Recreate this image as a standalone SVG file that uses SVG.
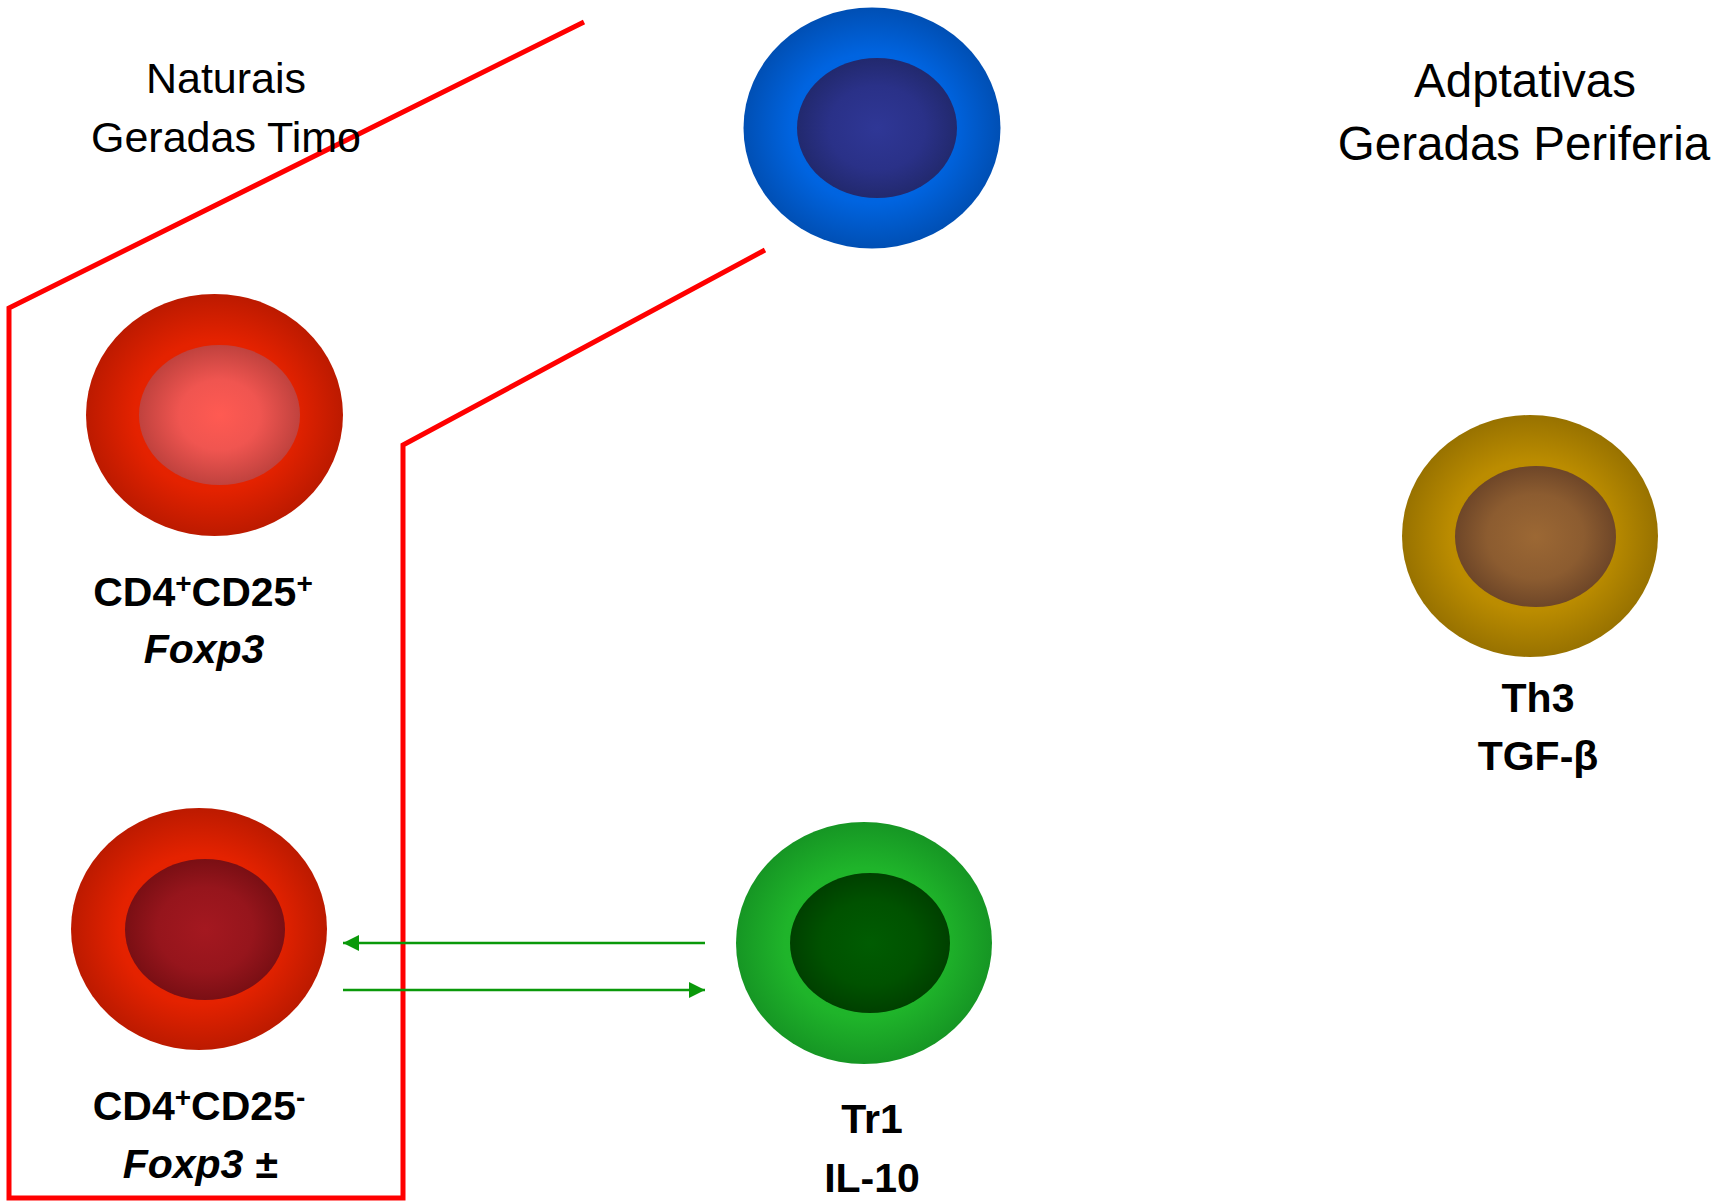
<svg xmlns="http://www.w3.org/2000/svg" width="1724" height="1201" viewBox="0 0 1724 1201">
  <style>
    .head { font-family: "Liberation Sans", Arial, sans-serif; fill: #000; text-anchor: middle; }
    .lbl { font-family: "Liberation Sans", Arial, sans-serif; font-weight: bold; font-size: 41px; fill: #000; text-anchor: middle; }
    .it { font-style: italic; }
    .sup { font-size: 28px; }
    .frame { fill: none; stroke: #ff0000; stroke-width: 5; stroke-linejoin: miter; }
    .flow { stroke: #0a990a; stroke-width: 2.5; fill: none; marker-end: url(#arrow); }
  </style>
  <defs>
    <radialGradient id="redShell" cx="50%" cy="50%" r="50%">
      <stop offset="0" stop-color="#e82400"/>
      <stop offset="0.62" stop-color="#e42200"/>
      <stop offset="1" stop-color="#bc1a00"/>
    </radialGradient>
    <radialGradient id="pinkCore" cx="50%" cy="50%" r="50%">
      <stop offset="0" stop-color="#ff5a52"/>
      <stop offset="0.5" stop-color="#f05550"/>
      <stop offset="1" stop-color="#c0423e"/>
    </radialGradient>
    <radialGradient id="maroonCore" cx="50%" cy="50%" r="50%">
      <stop offset="0" stop-color="#a41820"/>
      <stop offset="0.6" stop-color="#96151c"/>
      <stop offset="1" stop-color="#7a0f14"/>
    </radialGradient>
    <radialGradient id="blueShell" cx="50%" cy="50%" r="50%">
      <stop offset="0" stop-color="#006ae8"/>
      <stop offset="0.62" stop-color="#0064e0"/>
      <stop offset="1" stop-color="#004fb4"/>
    </radialGradient>
    <radialGradient id="blueCore" cx="50%" cy="50%" r="50%">
      <stop offset="0" stop-color="#2f3796"/>
      <stop offset="0.6" stop-color="#2a3188"/>
      <stop offset="1" stop-color="#22296e"/>
    </radialGradient>
    <radialGradient id="goldShell" cx="50%" cy="50%" r="50%">
      <stop offset="0" stop-color="#bf9000"/>
      <stop offset="0.62" stop-color="#bb8c00"/>
      <stop offset="1" stop-color="#987200"/>
    </radialGradient>
    <radialGradient id="brownCore" cx="50%" cy="50%" r="50%">
      <stop offset="0" stop-color="#9c6834"/>
      <stop offset="0.6" stop-color="#8c5c30"/>
      <stop offset="1" stop-color="#6e4628"/>
    </radialGradient>
    <radialGradient id="greenShell" cx="50%" cy="50%" r="50%">
      <stop offset="0" stop-color="#22bc2c"/>
      <stop offset="0.62" stop-color="#1fb42a"/>
      <stop offset="1" stop-color="#169624"/>
    </radialGradient>
    <radialGradient id="greenCore" cx="50%" cy="50%" r="50%">
      <stop offset="0" stop-color="#005c02"/>
      <stop offset="0.6" stop-color="#005200"/>
      <stop offset="1" stop-color="#004000"/>
    </radialGradient>
    <marker id="arrow" markerUnits="userSpaceOnUse" markerWidth="17" markerHeight="16" refX="16" refY="8" orient="auto">
      <path d="M0,0 L16,8 L0,16 Z" fill="#0a990a"/>
    </marker>
  </defs>

  <rect width="1724" height="1201" fill="#ffffff"/>

  <!-- thymus-derived (natural) group outline -->
  <polyline id="natural-frame" class="frame" points="584,22 9,308 9,1198 403,1198 403,445 765,250"/>

  <!-- column headings -->
  <g id="heading-natural">
    <text class="head" x="226" y="93" font-size="43">Naturais</text>
    <text class="head" x="226" y="152" font-size="43">Geradas Timo</text>
  </g>
  <g id="heading-adaptive">
    <text class="head" x="1525" y="97" font-size="47.5">Adptativas</text>
    <text class="head" x="1524" y="160" font-size="47.5">Geradas Periferia</text>
  </g>

  <!-- cells -->
  <g id="cell-naive">
    <ellipse cx="872" cy="128" rx="128.5" ry="120.5" fill="url(#blueShell)"/>
    <ellipse cx="877" cy="128" rx="80" ry="70" fill="url(#blueCore)"/>
  </g>

  <g id="cell-cd25pos">
    <ellipse cx="214.5" cy="415" rx="128.5" ry="121" fill="url(#redShell)"/>
    <ellipse cx="219.5" cy="415" rx="80.5" ry="70" fill="url(#pinkCore)"/>
    <text class="lbl" x="203" y="606">CD4<tspan class="sup" dy="-13">+</tspan><tspan dy="13">CD25</tspan><tspan class="sup" dy="-13">+</tspan></text>
    <text class="lbl it" x="204" y="663">Foxp3</text>
  </g>

  <g id="cell-cd25neg">
    <ellipse cx="199" cy="929" rx="128" ry="121" fill="url(#redShell)"/>
    <ellipse cx="205" cy="929.5" rx="80" ry="70.5" fill="url(#maroonCore)"/>
    <text class="lbl" x="199" y="1120">CD4<tspan class="sup" dy="-13">+</tspan><tspan dy="13">CD25</tspan><tspan class="sup" dy="-13">-</tspan></text>
    <text class="lbl it" x="200" y="1178">Foxp3 ±</text>
  </g>

  <g id="cell-tr1">
    <ellipse cx="864" cy="943" rx="128" ry="121" fill="url(#greenShell)"/>
    <ellipse cx="870" cy="943" rx="80" ry="70" fill="url(#greenCore)"/>
    <text class="lbl" x="872" y="1133">Tr1</text>
    <text class="lbl" x="872" y="1192">IL-10</text>
  </g>

  <g id="cell-th3">
    <ellipse cx="1530" cy="536" rx="128" ry="121" fill="url(#goldShell)"/>
    <ellipse cx="1535.5" cy="536.5" rx="80.5" ry="70.5" fill="url(#brownCore)"/>
    <text class="lbl" x="1538" y="712">Th3</text>
    <text class="lbl" x="1538" y="770">TGF-β</text>
  </g>

  <!-- conversion arrows between CD25- and Tr1 -->
  <g id="connectors">
    <line class="flow" x1="705" y1="943" x2="343" y2="943"/>
    <line class="flow" x1="343" y1="990" x2="705" y2="990"/>
  </g>
</svg>
